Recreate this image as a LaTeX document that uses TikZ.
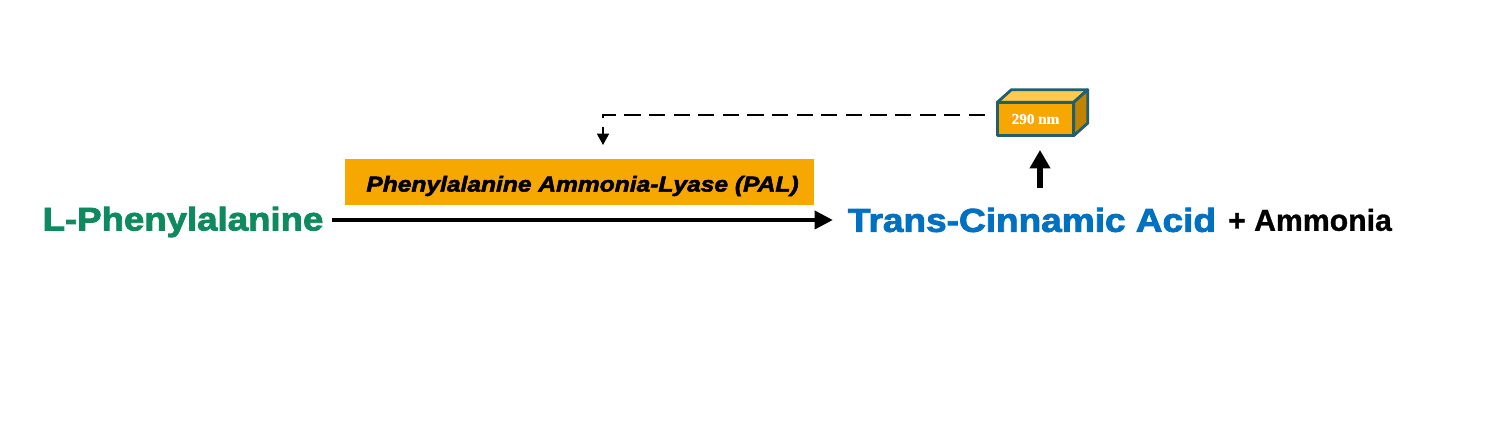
\documentclass[tikz,border=0pt]{standalone}
\usepackage{fontspec}
\setmainfont{Liberation Sans}
\newfontfamily\widefont[FakeBold=2.5,FakeStretch=1.12]{Liberation Sans Bold}
\newfontfamily\slantfont[FakeBold=2.5,FakeStretch=1.14]{Liberation Sans Bold Italic}
\newfontfamily\plainfont[FakeBold=1]{Liberation Sans Bold}
\newfontfamily\boxfont[FakeBold=0.6]{Liberation Serif Bold}
\usetikzlibrary{arrows.meta,positioning}
\definecolor{palorange}{HTML}{F7A800}
\definecolor{boxedge}{HTML}{215F6E}
\definecolor{boxtop}{HTML}{FFC84F}
\definecolor{boxside}{HTML}{C08400}
\definecolor{pheGreen}{HTML}{0F8A5F}
\definecolor{cinBlue}{HTML}{0070C0}
\tikzset{
	compound/.style={inner sep=0pt,anchor=center},
	reaction/.style={line width=1.4pt,-{Triangle[length=5.2pt,width=5pt]}},
	emission/.style={line width=1.7pt,-{Triangle[length=5.2pt,width=5.6pt]}},
	feedback/.style={line width=0.4pt,dash pattern=on 4.6pt off 2.4pt},
	facet/.style={draw=boxedge,line width=0.8pt,line join=round}
}
\begin{document}
\begin{tikzpicture}
	\useasboundingbox (0,0) rectangle (14.95,4.25);
	\node (enzyme) at (5.795,2.43) [fill=palorange,minimum width=4.69cm,minimum height=0.46cm,inner sep=0pt] {};
	\node (enzymename) at (5.825,2.39) [compound,font=\slantfont\fontsize{6.13}{8}\selectfont] {Phenylalanine Ammonia-Lyase (PAL)};
	\node (phe) at (1.83,2.03) [compound,text=pheGreen,font=\widefont\fontsize{9.3}{11}\selectfont] {L-Phenylalanine};
	\node (cin) at (10.32,2.05) [compound,text=cinBlue,font=\widefont\fontsize{9.4}{11}\selectfont] {Trans-Cinnamic Acid};
	\node (amm) at (13.1,2.05) [compound,font=\plainfont\fontsize{8.6}{10}\selectfont] {+ Ammonia};
	% cuboid
	\node (lamp) at (10.355,3.06) [fill=palorange,minimum width=0.75cm,minimum height=0.32cm,inner sep=0pt,text=white,font=\boxfont\fontsize{4.3}{5}\selectfont] {290 nm};
	\coordinate (topback) at ([shift={(0.14,0.125)}]lamp.north west);
	\coordinate (cornerback) at ([shift={(0.14,0.125)}]lamp.north east);
	\coordinate (sideback) at ([shift={(0.14,0.125)}]lamp.south east);
	\draw[facet,fill=boxtop] (lamp.north west) -- (topback) -- (cornerback) -- (lamp.north east) -- cycle;
	\draw[facet,fill=boxside] (lamp.north east) -- (cornerback) -- (sideback) -- (lamp.south east) -- cycle;
	\draw[facet] (lamp.north west) rectangle (lamp.south east);
	% arrows
	\coordinate (phearrow) at (3.32,2.05);
	\coordinate (cinarrow) at (8.33,2.05);
	\coordinate (risefoot) at (10.4,2.37);
	\coordinate (risetip) at (10.4,2.75);
	\coordinate (dashstart) at (9.85,3.1);
	\coordinate (dashcorner) at (6.03,3.1);
	\coordinate (dashtip) at (6.03,2.8);
	\draw[reaction] (phearrow) -- (cinarrow);
	\draw[emission] (risefoot) -- (risetip);
	\draw[feedback] (dashstart) -- (dashcorner) -- ([yshift=0.1cm]dashtip);
	\draw[line width=0.4pt,-{Triangle[length=3.2pt,width=3.4pt]}] ([yshift=0.12cm]dashtip) -- (dashtip);
\end{tikzpicture}
\end{document}
